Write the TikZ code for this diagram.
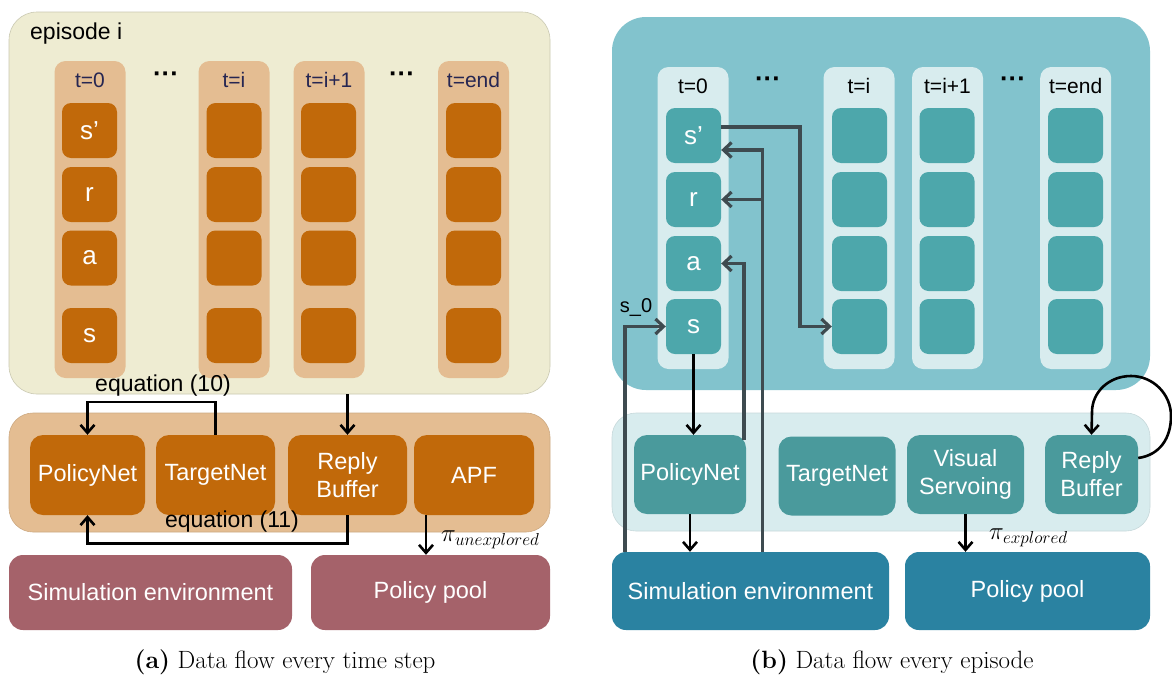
\documentclass[tikz,border=0pt]{standalone}
\usepackage{fontspec}
\newfontfamily\arial{Liberation Sans}
\usetikzlibrary{arrows.meta}
\definecolor{cbgA}{HTML}{EEECD2}
\definecolor{ctan}{HTML}{E4BD92}
\definecolor{corg}{HTML}{C1690A}
\definecolor{cmauve}{HTML}{A5626A}
\definecolor{cbgB}{HTML}{82C3CD}
\definecolor{ccolB}{HTML}{D8ECEE}
\definecolor{cteal}{HTML}{4DA7AB}
\definecolor{cteal2}{HTML}{4A9A9C}
\definecolor{cblue}{HTML}{2A82A1}
\definecolor{cdark}{HTML}{3E4B50}
\definecolor{cnavy}{HTML}{262652}
\newcommand{\fs}[1]{\fontsize{#1}{#1}\selectfont}
\tikzset{
  x=1pt,y=-1pt,
  base/.style={inner sep=0pt, anchor=center},
  panelA/.style={base, fill=cbgA, draw=cbgA!85!black, line width=0.6pt, rounded corners=28pt},
  midA/.style={base, fill=ctan, draw=ctan!90!black, line width=0.6pt, rounded corners=24pt},
  colA/.style={base, fill=ctan, rounded corners=11pt, minimum width=71pt, minimum height=317pt},
  cellA/.style={base, fill=corg, rounded corners=9pt, minimum width=55pt, minimum height=55pt, text=white, font=\arial\fs{26}},
  modA/.style={base, fill=corg, rounded corners=13pt, minimum height=80pt, text=white, align=center, font=\arial\fontsize{23.5}{28}\selectfont},
  envA/.style={base, fill=cmauve, rounded corners=14pt, minimum height=75pt, text=white, font=\arial\fs{23.5}},
  panelB/.style={base, fill=cbgB, rounded corners=34pt},
  midB/.style={base, fill=ccolB, draw=ccolB!92!black, line width=0.6pt, rounded corners=24pt},
  colB/.style={base, fill=ccolB, rounded corners=11pt, minimum width=71pt, minimum height=302pt},
  cellB/.style={base, fill=cteal, rounded corners=9pt, minimum width=55pt, minimum height=55pt, text=white, font=\arial\fs{26}},
  modB/.style={base, fill=cteal2, rounded corners=13pt, minimum height=79pt, text=white, align=center, font=\arial\fontsize{23.5}{28}\selectfont},
  envB/.style={base, fill=cblue, rounded corners=14pt, minimum height=78pt, text=white, font=\arial\fs{23.5}},
  tlab/.style={base, font=\arial\fs{21}},
  lab/.style={base, font=\arial\fs{23}},
  dots/.style={base, font=\arial\bfseries\fs{26}},
  blk/.style={draw=black, line width=2.6pt, -{Straight Barb[length=8pt,width=14pt]}},
  gar/.style={draw=cdark, line width=3.2pt, -{Straight Barb[length=8pt,width=15pt]}},
  capt/.style={base, font=\fs{25}},
  pil/.style={base, anchor=west, font=\fs{27}},
}
\begin{document}
\begin{tikzpicture}
\useasboundingbox[fill=white] (0,0) rectangle (1172,675);
% ================= LEFT (a) =================
\node[panelA, minimum width=541pt, minimum height=382pt] (PA) at (279.5,203) {};
\node[lab, anchor=west] (epi) at (30,34) {episode i};
\node[colA] (ca) at (90,219.5) {};
\node[colA] (cb) at (234,219.5) {};
\node[colA] (cc) at (329,219.5) {};
\node[colA] (cd) at (473.5,219.5) {};
\node[tlab, text=cnavy] (ta) at (90,80) {t=0};
\node[tlab, text=cnavy] (tb) at (234,80) {t=i};
\node[tlab, text=cnavy] (tc) at (329,80) {t=i+1};
\node[tlab, text=cnavy] (td) at (473.5,80) {t=end};
\node[dots] (da1) at (166,77) {···};
\node[dots] (da2) at (402,77) {···};
\node[cellA] (lsp) at (89.5,130.5) {s’};
\node[cellA] (lr) at (89.5,194.5) {r};
\node[cellA] (la) at (89.5,258) {a};
\node[cellA] (ls) at (89.5,335.5) {s};
\foreach \cx/\nm in {234/b,328.5/c,473.5/d}{
  \node[cellA] (l\nm1) at (\cx,130.5) {};
  \node[cellA] (l\nm2) at (\cx,194.5) {};
  \node[cellA] (l\nm3) at (\cx,258) {};
  \node[cellA] (l\nm4) at (\cx,335.5) {};
}
\node[midA, minimum width=541pt, minimum height=119pt] (MA) at (279.5,472.5) {};
\node[modA, minimum width=115pt] (pnA) at (87.5,475) {PolicyNet};
\node[modA, minimum width=119pt] (tnA) at (215.5,475) {TargetNet};
\node[modA, minimum width=119pt] (rbA) at (347.5,475) {Reply\\Buffer};
\node[modA, minimum width=120pt] (apf) at (474,475) {APF};
\node[envA, minimum width=283pt] (seA) at (150.5,592.5) {Simulation environment};
\node[envA, minimum width=239pt] (ppA) at (430.5,592.5) {Policy pool};
\node[lab] (eq10) at (163,386) {equation (10)};
\node[lab] (eq11) at (232,522) {equation (11)};
\draw[blk] (tnA.north) -- ++(0,-33) -| (pnA.north);
\draw[blk] (PA.south -| rbA.north) -- (rbA.north);
\draw[blk] (rbA.south) -- ++(0,28) -| (pnA.south);
\draw[blk] ([xshift=-48pt]apf.south) -- ([xshift=-48pt]apf.south |- ppA.north);
\node[pil] (piu) at (441,540) {$\pi_{unexplored}$};
\node[capt] (capa) at (285,662) {\textbf{(a)} Data flow every time step};
% ================= RIGHT (b) =================
\node[panelB, minimum width=538pt, minimum height=373pt] (PB) at (881,203.5) {};
\node[colB] (cA) at (693,218) {};
\node[colB] (cB) at (859,218) {};
\node[colB] (cC) at (947.5,218) {};
\node[colB] (cD) at (1075.7,218) {};
\node[tlab] (tA) at (693,86) {t=0};
\node[tlab] (tB) at (859,86) {t=i};
\node[tlab] (tC) at (947.5,86) {t=i+1};
\node[tlab] (tD) at (1075.7,86) {t=end};
\node[dots] (db1) at (768,82) {···};
\node[dots] (db2) at (1013,82) {···};
\node[cellB] (rsp) at (693.5,135.5) {s’};
\node[cellB] (rr) at (693.5,199.5) {r};
\node[cellB] (ra) at (693.5,263.5) {a};
\node[cellB] (rs) at (693.5,326.5) {s};
\foreach \cx/\nm in {859.5/i,947/j,1075.5/k}{
  \node[cellB] (r\nm1) at (\cx,135.5) {};
  \node[cellB] (r\nm2) at (\cx,199.5) {};
  \node[cellB] (r\nm3) at (\cx,263.5) {};
  \node[cellB] (r\nm4) at (\cx,326.5) {};
}
\node[midB, minimum width=538pt, minimum height=118pt] (MB) at (881,472) {};
\node[modB, minimum width=112pt] (pnB) at (690,474.5) {PolicyNet};
\node[modB, minimum width=117pt] (tnB) at (837,476) {TargetNet};
\node[modB, minimum width=117pt] (vs) at (965.5,474.5) {Visual\\Servoing};
\node[modB, minimum width=93pt] (rbB) at (1091.5,474.5) {Reply\\Buffer};
\node[envB, minimum width=277pt] (seB) at (750.5,591) {Simulation environment};
\node[envB, minimum width=245pt] (ppB) at (1027.5,591) {Policy pool};
\coordinate (k1) at (800,127);
\coordinate (v1) at (762.6,0);
\coordinate (v2) at (744,440);
\coordinate (v3) at (625,0);
\draw[gar] ([yshift=8.5pt]rsp.east) -- (k1) |- (ri4.west);
\draw[gar] (seB.north -| v1) |- ([yshift=-14.5pt]rsp.east);
\draw[gar] (v1 |- rr.east) -- (rr.east);
\draw[gar] (v2) |- (ra.east);
\draw[gar] (seB.north -| v3) |- (rs.west);
\node[base, font=\arial\fs{20}] (s0) at (636,307) {s\_0};
\draw[blk] (rs.south) -- (rs.south |- pnB.north);
\draw[blk] (pnB.south) -- (pnB.south |- seB.north);
\draw[blk] (vs.south) -- (vs.south |- ppB.north);
\draw[blk] ([yshift=16.5pt]rbB.east) .. controls (1160,455) and (1171,438) .. (1171,416)
  .. controls (1171,394) and (1153,376) .. (1131,376)
  .. controls (1109,376) and (1092,392) .. (1092,412) -- (rbB.north);
\node[pil] (pie) at (989,538) {$\pi_{explored}$};
\node[capt] (capb) at (892,662) {\textbf{(b)} Data flow every episode};
\end{tikzpicture}
\end{document}
